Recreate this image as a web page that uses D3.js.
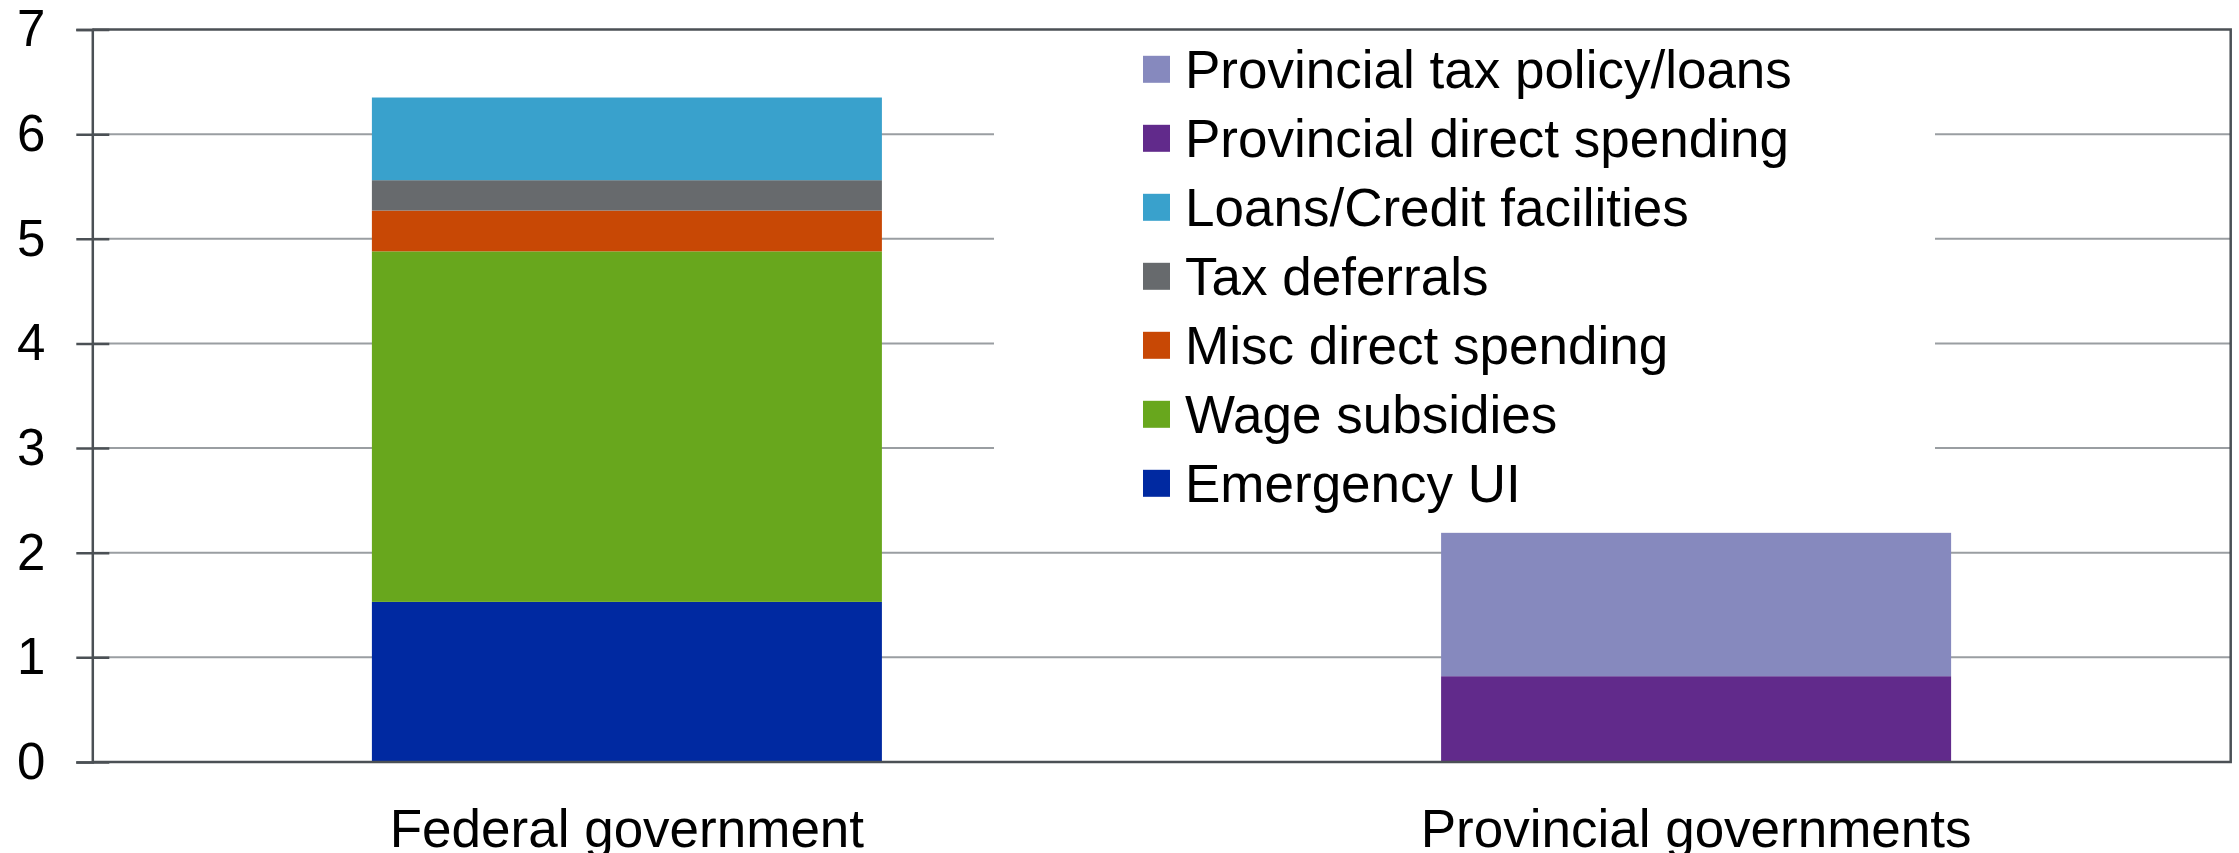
<!DOCTYPE html>
<html>
<head>
<meta charset="utf-8">
<script src="https://cdn.jsdelivr.net/npm/d3@7"></script>
<style>
  body { margin: 0; background: #fff; }
  text { font-family: "Liberation Sans", Arial, sans-serif; fill: #000; }
</style>
</head>
<body>
<div id="chart"></div>
<script>
// categories along x
var categories = ["Federal government", "Provincial governments"];

// stack order, bottom to top
var seriesNames = ["Emergency UI", "Wage subsidies", "Misc direct spending", "Tax deferrals",
                   "Loans/Credit facilities", "Provincial direct spending", "Provincial tax policy/loans"];
var seriesColors = ["#0029a1", "#68a71d", "#c84805", "#676a6d", "#39a1cc", "#612a8b", "#8689be"];

// values per series: [federal, provincial]
var emergencyUI = [1.53, 0];
var wageSubsidies = [3.35, 0];
var miscDirect = [0.39, 0];
var taxDeferrals = [0.29, 0];
var loansCredit = [0.79, 0];
var provDirect = [0, 0.82];
var provTaxLoans = [0, 1.37];

var yTicks = [0, 1, 2, 3, 4, 5, 6, 7];

var allValues = [emergencyUI, wageSubsidies, miscDirect, taxDeferrals, loansCredit, provDirect, provTaxLoans];

var width = 2239, height = 853;
var margin = {top: 29.5, right: 8.3, bottom: 91, left: 92.3};
var w = width - margin.left - margin.right;
var h = height - margin.top - margin.bottom;

var svg = d3.select("#chart")
  .append("svg")
    .attr("width", width)
    .attr("height", height)
  .append("g")
    .attr("transform", "translate(" + margin.left + "," + margin.top + ")");

// build rows for d3.stack
var rows = categories.map(function(c, i) {
  var r = {cat: c};
  seriesNames.forEach(function(s, j) { r[s] = allValues[j][i]; });
  return r;
});

var stacked = d3.stack().keys(seriesNames)(rows);

var x = d3.scaleBand()
  .domain(categories)
  .range([0, w])
  .paddingInner(0.523)
  .paddingOuter(0.2615);

var y = d3.scaleLinear()
  .domain([0, 7])
  .range([h, 0]);

var color = d3.scaleOrdinal().domain(seriesNames).range(seriesColors);

// gridlines
svg.append("g")
  .selectAll("line")
  .data(yTicks.filter(function(d) { return d > 0 && d < 7; }))
  .enter().append("line")
    .attr("x1", 0)
    .attr("x2", w)
    .attr("y1", function(d) { return y(d); })
    .attr("y2", function(d) { return y(d); })
    .attr("stroke", "#9a9ea2")
    .attr("stroke-width", 2);

// bars
svg.append("g")
  .selectAll("g")
  .data(stacked)
  .enter().append("g")
    .attr("fill", function(d) { return color(d.key); })
  .selectAll("rect")
  .data(function(d) { return d; })
  .enter().append("rect")
    .attr("x", function(d) { return x(d.data.cat); })
    .attr("width", x.bandwidth())
    .attr("y", function(d) { return y(d[1]); })
    .attr("height", function(d) { return y(d[0]) - y(d[1]); });

// legend box hides gridlines behind it
var legend = svg.append("g")
  .attr("transform", "translate(" + (994 - margin.left) + "," + (35 - margin.top) + ")");

legend.append("rect")
  .attr("width", 941)
  .attr("height", 485)
  .attr("fill", "#fff");

var legendItems = seriesNames.slice().reverse();
var item = legend.selectAll("g.item")
  .data(legendItems)
  .enter().append("g")
    .attr("class", "item")
    .attr("transform", function(d, i) { return "translate(149," + (34.3 + i * 69) + ")"; });

item.append("rect")
  .attr("x", 0)
  .attr("y", -13.5)
  .attr("width", 27)
  .attr("height", 27)
  .attr("fill", function(d) { return color(d); });

item.append("text")
  .attr("x", 42)
  .attr("dy", "0.35em")
  .style("font-size", "53px")
  .text(function(d) { return d; });

// frame: top, right, bottom
svg.append("path")
  .attr("d", "M0," + y(7) + "H" + w + "V" + y(0) + "H0")
  .attr("fill", "none")
  .attr("stroke", "#4b5055")
  .attr("stroke-width", 2.5);

// y axis
var yAxis = svg.append("g")
  .call(d3.axisLeft(y).tickValues(yTicks).tickSize(16).tickPadding(31).tickFormat(d3.format("d")));
yAxis.select(".domain").attr("stroke", "#4b5055").attr("stroke-width", 2.5);
yAxis.selectAll(".tick line")
  .attr("x2", -16)
  .attr("x1", 17)
  .attr("stroke", "#4b5055")
  .attr("stroke-width", 2.5);
yAxis.selectAll(".tick text")
  .style("font-size", "51px")
  .style("font-family", "'Liberation Sans', Arial, sans-serif")
  .attr("fill", "#000");

// x axis labels
var xAxis = svg.append("g")
  .attr("transform", "translate(0," + h + ")")
  .call(d3.axisBottom(x).tickSize(0).tickPadding(47));
xAxis.select(".domain").remove();
xAxis.selectAll(".tick text")
  .style("font-size", "53px")
  .style("font-family", "'Liberation Sans', Arial, sans-serif")
  .attr("fill", "#000");
</script>
</body>
</html>
